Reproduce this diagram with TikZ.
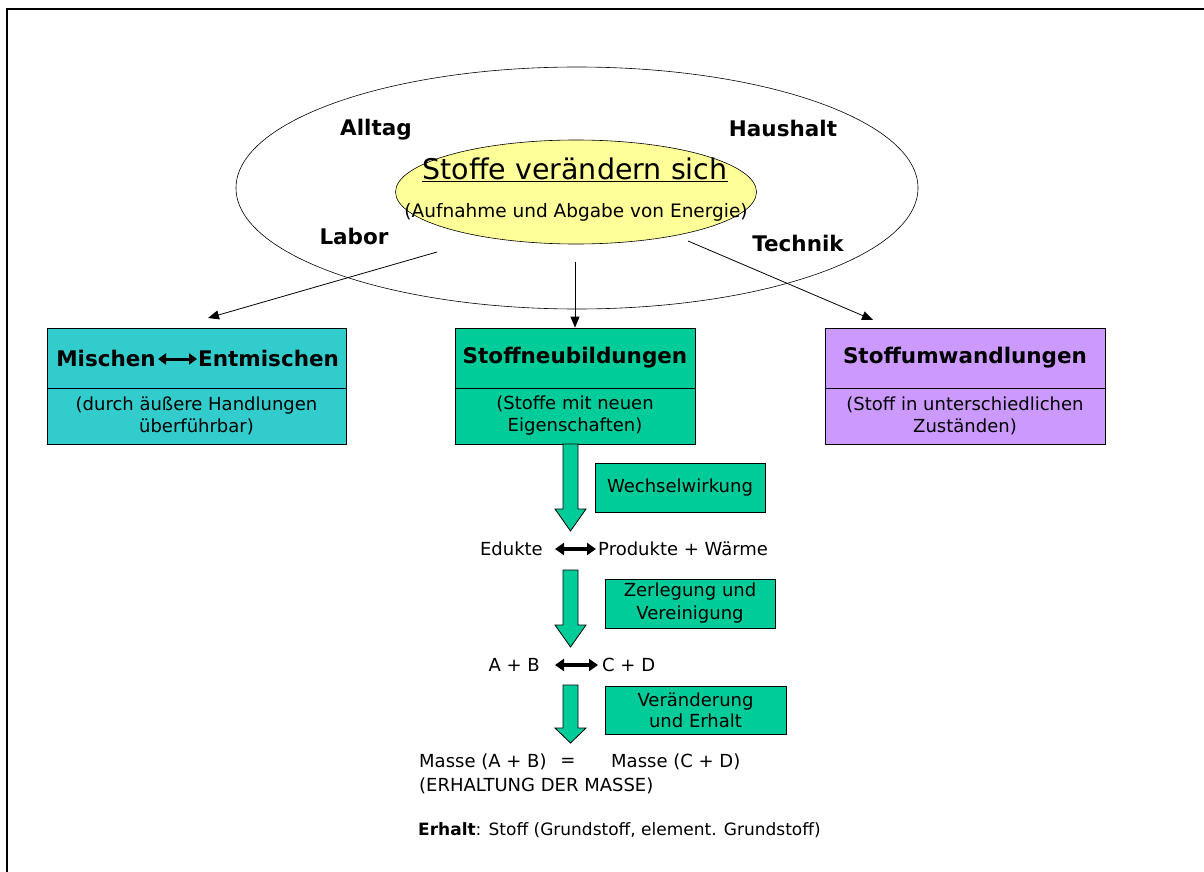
\documentclass[tikz,border=0pt]{standalone}
\usepackage{fontspec}
\setmainfont{DejaVu Sans}
\usetikzlibrary{arrows.meta,shapes.geometric,calc}
\definecolor{turq}{HTML}{33CCCC}
\definecolor{sgreen}{HTML}{00CC99}
\definecolor{lila}{HTML}{CC99FF}
\definecolor{lyellow}{HTML}{FFFF99}
\tikzset{
  lbl/.style={font=\fontsize{21.5}{24}\selectfont\bfseries, inner sep=0pt},
  txt/.style={font=\fontsize{18}{22}\selectfont, inner sep=0pt, align=center},
  boxtop/.style={draw, line width=0.8pt, minimum height=60pt, inner sep=0pt, font=\fontsize{21.5}{24}\selectfont\bfseries},
  boxbot/.style={draw, line width=0.8pt, minimum height=56pt, inner sep=0pt, align=center, font=\fontsize{18}{22}\selectfont},
  conn/.style={line width=0.8pt, -{Triangle[length=11pt,width=9pt]}},
  dbl/.style={line width=3.5pt, {Triangle[length=9pt,width=12pt]}-{Triangle[length=9pt,width=12pt]}},
  block/.style={fill=sgreen, draw, line width=0.8pt},
  gbox/.style={fill=sgreen, draw, line width=0.8pt, inner sep=0pt, align=center, font=\fontsize{18}{23}\selectfont},
}
\begin{document}
\begin{tikzpicture}[x=1pt,y=-1pt]
\useasboundingbox (0,0) rectangle (1204,872);
\draw[line width=2pt] (7,872) -- (7,9) -- (1204,9);
% ellipses
\node[ellipse, draw, line width=0.6pt, minimum width=682pt, minimum height=242pt] (outer) at (577,188) {};
\node[ellipse, draw, fill=lyellow, line width=0.6pt, minimum width=361pt, minimum height=104pt] (inner) at (576,192) {};
\node[font=\fontsize{28.5}{30}\selectfont, inner sep=0pt] (title) at (575,170) {\underline{Stoffe verändern sich}};
\node[font=\fontsize{18.5}{20}\selectfont, inner sep=0pt] (sub) at (576,212) {(Aufnahme und Abgabe von Energie)};
\node[lbl] (alltag) at (376,130) {Alltag};
\node[lbl] (haushalt) at (783,128) {Haushalt};
\node[lbl] (labor) at (354,236) {Labor};
\node[lbl] (technik) at (798,243) {Technik};
% boxes
\node[boxtop, fill=turq, minimum width=299pt] (b1t) at (196.5,358) {};
\node[boxbot, fill=turq, minimum width=299pt] (b1b) at (196.5,416) {(durch äußere Handlungen\\überführbar)};
\node[font=\fontsize{21.5}{24}\selectfont\bfseries, inner sep=0pt, anchor=east] (mis) at (156,358) {Mischen};
\node[font=\fontsize{21.5}{24}\selectfont\bfseries, inner sep=0pt, anchor=west] (ent) at (198,358) {Entmischen};
\draw[line width=3pt, {Triangle[length=8pt,width=11pt]}-{Triangle[length=8pt,width=11pt]}] ($(mis.east)+(2,1)$) -- ($(ent.west)+(-1,1)$);
\node[boxtop, fill=sgreen, minimum width=240pt] (b2t) at (575,358) {Stoffneubildungen};
\node[boxbot, fill=sgreen, minimum width=240pt] (b2b) at (575,416) {(Stoffe mit neuen\\Eigenschaften)};
\node[boxtop, fill=lila, minimum width=280pt] (b3t) at (965,358) {Stoffumwandlungen};
\node[boxbot, fill=lila, minimum width=280pt] (b3b) at (965,416) {(Stoff in unterschiedlichen\\Zuständen)};
% connectors
\coordinate (s1) at (437,252);
\coordinate (e1) at (208,318);
\coordinate (s2) at (575,262);
\coordinate (s3) at (688,241);
\coordinate (e3) at (873,320);
\draw[conn] (s1) -- (e1);
\draw[conn] (s2) -- (b2t.north);
\draw[conn] (s3) -- (e3);
% block arrows
\draw[block] (563,444) -- (578,444) -- (578,509) -- (586,509) -- (570.5,531) -- (555,509) -- (563,509) -- cycle;
\draw[block] (563,570) -- (578,570) -- (578,625) -- (586,625) -- (570.5,647) -- (555,625) -- (563,625) -- cycle;
\draw[block] (563,685) -- (578,685) -- (578,728) -- (586,728) -- (570.5,743) -- (555,728) -- (563,728) -- cycle;
\node[gbox, minimum width=170pt, minimum height=49pt] (ww) at (680,487.5) {Wechselwirkung};
\node[gbox, minimum width=170pt, minimum height=49pt] (zv) at (690,603.5) {Zerlegung und\\Vereinigung};
\node[gbox, font=\fontsize{18}{21}\selectfont, minimum width=181pt, minimum height=48pt] (ve) at (695.5,710) {Veränderung\\und Erhalt};
% equations
\node[txt, anchor=east] (edu) at (543,549) {Edukte};
\node[txt, anchor=west] (pro) at (598,549) {Produkte + Wärme};
\draw[dbl] ($(edu.east)+(12,0)$) -- ($(pro.west)+(-2,0)$);
\node[txt, anchor=east] (ab) at (540,665) {A + B};
\node[txt, anchor=west] (cd) at (602,665) {C + D};
\draw[dbl] ($(ab.east)+(15,0)$) -- ($(cd.west)+(-4,0)$);
\node[txt, anchor=west] (mab) at (419,762) {Masse (A + B)};
\node[txt] (eq) at (568,762) {=};
\node[txt, anchor=west] (mcd) at (611,762) {Masse (C + D)};
\node[txt, anchor=west] (erh) at (419,786) {(ERHALTUNG DER MASSE)};
\node[font=\fontsize{17}{20}\selectfont, inner sep=0pt, anchor=west] (erhalt) at (418,830) {\textbf{Erhalt}: Stoff (Grundstoff, element. Grundstoff)};
\end{tikzpicture}
\end{document}
